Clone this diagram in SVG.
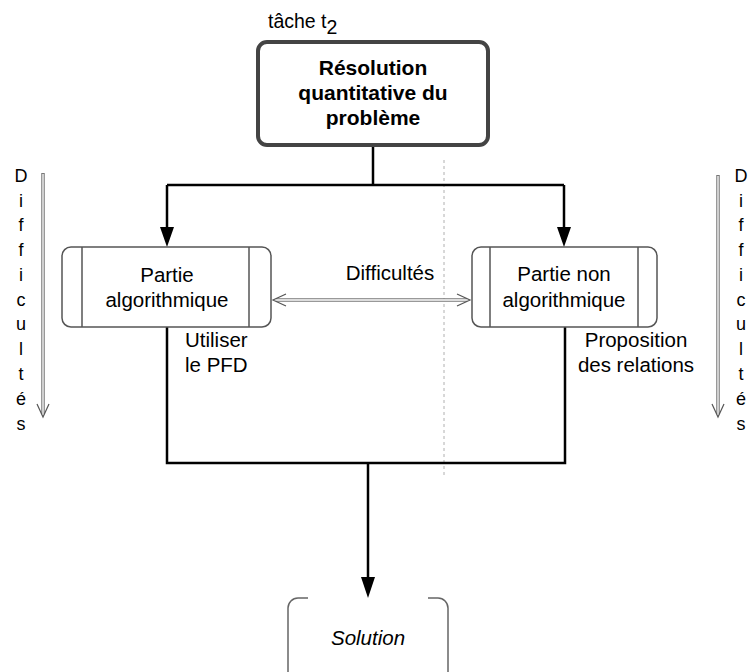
<svg xmlns="http://www.w3.org/2000/svg" width="750" height="672" viewBox="0 0 750 672">
<defs>
<style>
text{font-family:"Liberation Sans",Arial,sans-serif;fill:#000;}
.t{font-size:20.5px;}
.b{font-size:21px;font-weight:bold;}
.l{font-size:18px;}
.box{fill:#fff;stroke:#555;stroke-width:1.5;}
.conn{fill:none;stroke:#000;stroke-width:2.5;}
.hollowOut{fill:none;stroke:#777;stroke-width:3.5;}
.hollowIn{fill:none;stroke:#fff;stroke-width:1.3;}
.head{fill:none;stroke:#555;stroke-width:1.2;}
</style>
</defs>

<line x1="444" y1="160" x2="444" y2="478" stroke="#b0b0b0" stroke-width="1" stroke-dasharray="3,3"/>

<g id="connectors">
<path class="conn" d="M373,145 V185"/>
<path class="conn" d="M167,185 H564"/>
<path class="conn" d="M167,185 V227"/>
<path class="conn" d="M564,185 V227"/>
<polygon points="160,227 174,227 167,247" fill="#000"/>
<polygon points="557,227 571,227 564,247" fill="#000"/>
<path class="conn" d="M167,327 V463 H565 V326"/>
<path class="conn" d="M368,463 V578"/>
<polygon points="361,577 375,577 368,598" fill="#000"/>
<g id="difficultes-link">
<line class="hollowOut" x1="276" y1="300" x2="467" y2="300"/>
<line class="hollowIn" x1="276" y1="300" x2="467" y2="300"/>
<polyline class="head" points="286,294 273,300 286,306"/>
<polyline class="head" points="457,294 470,300 457,306"/>
<text class="t" x="390" y="280" text-anchor="middle">Difficultés</text>
</g>
</g>

<g id="task">
<text x="268" y="28" font-size="19.5">tâche t<tspan dy="6">2</tspan></text>
<rect x="258" y="42" width="230" height="103" rx="9" fill="#fff" stroke="#444" stroke-width="4"/>
<text class="b" x="373" y="75" text-anchor="middle">Résolution</text>
<text class="b" x="373" y="100" text-anchor="middle">quantitative du</text>
<text class="b" x="373" y="125" text-anchor="middle">problème</text>
</g>

<g id="partie-algo">
<rect class="box" x="62" y="247" width="209" height="80" rx="9"/>
<line x1="82" y1="247" x2="82" y2="327" stroke="#555" stroke-width="1.5"/>
<line x1="249" y1="247" x2="249" y2="327" stroke="#555" stroke-width="1.5"/>
<text class="t" x="167" y="282" text-anchor="middle">Partie</text>
<text class="t" x="167" y="307" text-anchor="middle">algorithmique</text>
</g>

<g id="partie-non-algo">
<rect class="box" x="472" y="247" width="185" height="80" rx="9"/>
<line x1="490" y1="247" x2="490" y2="327" stroke="#555" stroke-width="1.5"/>
<line x1="638" y1="247" x2="638" y2="327" stroke="#555" stroke-width="1.5"/>
<text class="t" x="564" y="281" text-anchor="middle">Partie non</text>
<text class="t" x="564" y="307" text-anchor="middle">algorithmique</text>
</g>

<g id="label-utiliser">
<text class="t" x="185" y="347">Utiliser</text>
<text class="t" x="185" y="372">le PFD</text>
</g>

<g id="label-proposition">
<text class="t" x="636" y="347" text-anchor="middle">Proposition</text>
<text class="t" x="636" y="372" text-anchor="middle">des relations</text>
</g>

<g id="solution">
<path d="M308,598 H298 A10,10 0 0 0 288,608 V690" fill="none" stroke="#666" stroke-width="1.5"/>
<path d="M428,598 H438 A10,10 0 0 1 448,608 V690" fill="none" stroke="#666" stroke-width="1.5"/>
<text class="t" x="368" y="645" text-anchor="middle" font-style="italic">Solution</text>
</g>

<g id="difficultes-left">
<line class="hollowOut" x1="43" y1="173" x2="43" y2="414"/>
<line class="hollowIn" x1="43" y1="174" x2="43" y2="414"/>
<polyline class="head" points="37,404 43,417 49,404"/>
<g text-anchor="middle">
<text class="l" x="21" y="182">D</text><text class="l" x="21" y="207">i</text><text class="l" x="21" y="231">f</text><text class="l" x="21" y="256">f</text><text class="l" x="21" y="281">i</text><text class="l" x="21" y="306">c</text><text class="l" x="21" y="330">u</text><text class="l" x="21" y="355">l</text><text class="l" x="21" y="380">t</text><text class="l" x="21" y="405">é</text><text class="l" x="21" y="430">s</text>
</g>
</g>

<g id="difficultes-right">
<line class="hollowOut" x1="718" y1="175" x2="718" y2="414"/>
<line class="hollowIn" x1="718" y1="176" x2="718" y2="414"/>
<polyline class="head" points="712,404 718,417 724,404"/>
<g text-anchor="middle">
<text class="l" x="741" y="182">D</text><text class="l" x="741" y="207">i</text><text class="l" x="741" y="231">f</text><text class="l" x="741" y="256">f</text><text class="l" x="741" y="281">i</text><text class="l" x="741" y="306">c</text><text class="l" x="741" y="330">u</text><text class="l" x="741" y="355">l</text><text class="l" x="741" y="380">t</text><text class="l" x="741" y="405">é</text><text class="l" x="741" y="430">s</text>
</g>
</g>
</svg>
